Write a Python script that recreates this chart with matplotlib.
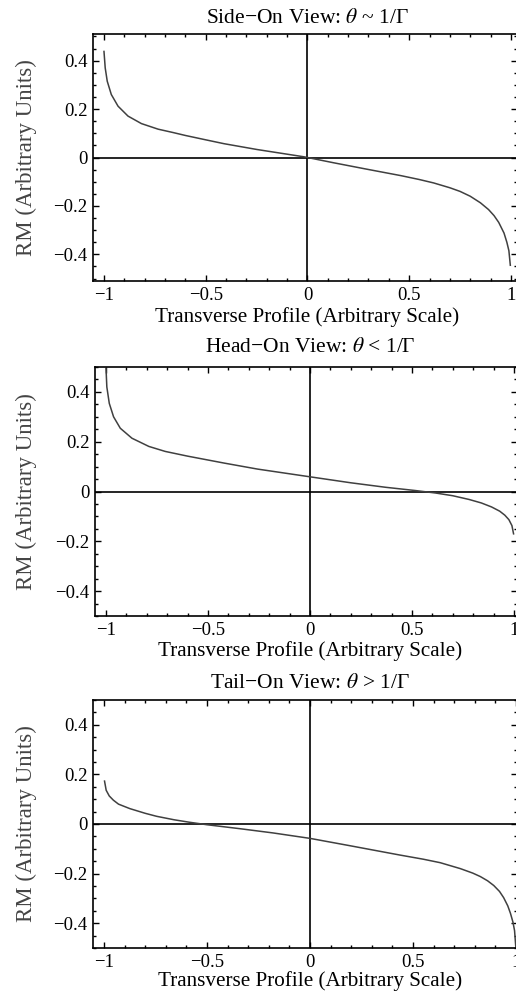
import matplotlib
matplotlib.use("Agg")
import matplotlib.pyplot as plt
import matplotlib.transforms as mtransforms
from matplotlib.ticker import MultipleLocator, FixedLocator, FixedFormatter

plt.rcParams['font.family'] = ['Liberation Serif', 'DejaVu Serif']
plt.rcParams['mathtext.fontset'] = 'stix'

titles = ["Side\u2212On View: $\\theta$ ~ 1/\u0393",
          "Head\u2212On View: $\\theta$ < 1/\u0393",
          "Tail\u2212On View: $\\theta$ > 1/\u0393"]
xlabel = "Transverse Profile (Arbitrary Scale)"
ylabel = "RM (Arbitrary Units)"

xticks = [-1, -0.5, 0, 0.5, 1]
xticklabels = ["\u22121", "\u22120.5", "0", "0.5", "1"]
yticks = [-0.4, -0.2, 0, 0.2, 0.4]
yticklabels = ["\u22120.4", "\u22120.2", "0", "0.2", "0.4"]

side_x = [-1.0, -0.994, -0.984, -0.964, -0.931, -0.882, -0.816, -0.734, -0.66, -0.60, -0.50, -0.41,
          -0.248, -0.018, 0.0, 0.13, 0.29, 0.46, 0.55, 0.62, 0.70, 0.75, 0.80, 0.85, 0.89, 0.917,
          0.94, 0.966, 0.98, 0.99, 0.997]
side_y = [0.438, 0.37, 0.315, 0.26, 0.212, 0.171, 0.140, 0.117, 0.103, 0.091, 0.073, 0.057,
          0.033, 0.003, 0.0, -0.022, -0.048, -0.075, -0.091, -0.105, -0.125, -0.140, -0.160,
          -0.187, -0.215, -0.240, -0.268, -0.312, -0.35, -0.385, -0.445]

head_x = [-1.0, -0.996, -0.984, -0.963, -0.93, -0.873, -0.79, -0.71, -0.60, -0.42, -0.257, 0.0,
          0.2, 0.37, 0.515, 0.615, 0.70, 0.78, 0.84, 0.89, 0.93, 0.955, 0.975, 0.99, 0.998]
head_y = [0.494, 0.42, 0.354, 0.30, 0.254, 0.214, 0.181, 0.161, 0.142, 0.114, 0.09, 0.059,
          0.035, 0.017, 0.004, -0.006, -0.017, -0.032, -0.046, -0.062, -0.079, -0.095, -0.113,
          -0.137, -0.17]

tail_x = [-0.998, -0.99, -0.975, -0.955, -0.93, -0.875, -0.80, -0.745, -0.66, -0.585, -0.50, -0.34,
          -0.18, 0.0, 0.19, 0.435, 0.55, 0.632, 0.73, 0.79, 0.827, 0.862, 0.892, 0.92, 0.94, 0.96,
          0.973, 0.985, 0.993, 0.999]
tail_y = [0.173, 0.136, 0.113, 0.096, 0.080, 0.062, 0.043, 0.031, 0.017, 0.007, -0.003, -0.019,
          -0.036, -0.058, -0.087, -0.125, -0.142, -0.156, -0.180, -0.198, -0.212, -0.229, -0.248,
          -0.272, -0.297, -0.33, -0.36, -0.395, -0.43, -0.496]

series = [(side_x, side_y), (head_x, head_y), (tail_x, tail_y)]

W, H = 516, 993
fig = plt.figure(figsize=(W / 100, H / 100), dpi=100)

# (left_px, top_px, bottom_px, xlim, ylim, title_y_px, xlabel_y_px)
layout = [
    (93, 34, 281, (-1.054, 1.03), (-0.51, 0.51), 18, 317),
    (95, 367, 616, (-1.054, 1.015), (-0.5, 0.5), 348, 651),
    (93, 700, 948, (-1.054, 1.005), (-0.5, 0.5), 683, 981),
]
ylabel_x_px = 27

for (left, top, bottom, xl, yl, ty, lx), (xs, ys), title in zip(layout, series, titles):
    ax = fig.add_axes([left / W, 1 - bottom / H, (W - left) / W + 0.002, (bottom - top) / H])
    ax.set_xlim(*xl)
    ax.set_ylim(*yl)
    ax.axhline(0, color='black', lw=1.2, zorder=1)
    ax.axvline(0, color='black', lw=1.2, zorder=1)
    ax.plot(xs, ys, color='#404040', lw=1.1, zorder=2)
    ax.xaxis.set_major_locator(FixedLocator(xticks))
    ax.xaxis.set_major_formatter(FixedFormatter(xticklabels))
    ax.yaxis.set_major_locator(FixedLocator(yticks))
    ax.yaxis.set_major_formatter(FixedFormatter(yticklabels))
    ax.xaxis.set_minor_locator(MultipleLocator(0.1))
    ax.yaxis.set_minor_locator(MultipleLocator(0.05))
    ax.tick_params(which='both', direction='in', top=True, right=True, width=1.0,
                   labelsize=13.5)
    ax.tick_params(axis='x', pad=4)
    ax.tick_params(axis='y', pad=4)
    ax.tick_params(which='major', length=4)
    ax.tick_params(which='minor', length=2.5)
    for s in ax.spines.values():
        s.set_linewidth(1.2)

    h_px = bottom - top
    trans = mtransforms.blended_transform_factory(ax.transData, ax.transAxes)
    ax.text(0, 1 + (top - ty) / h_px, title, transform=trans, ha='center', va='center',
            fontsize=15.5)
    ax.text(0, -(lx - bottom) / h_px, xlabel, transform=trans, ha='center', va='center',
            fontsize=15.2)
    w_px = W - left
    ax.text(-(left - ylabel_x_px) / w_px, 0.5, ylabel, transform=ax.transAxes, rotation=90,
            ha='center', va='center', fontsize=16.5, color='#444444')

fig.savefig("out.png", dpi=100)
